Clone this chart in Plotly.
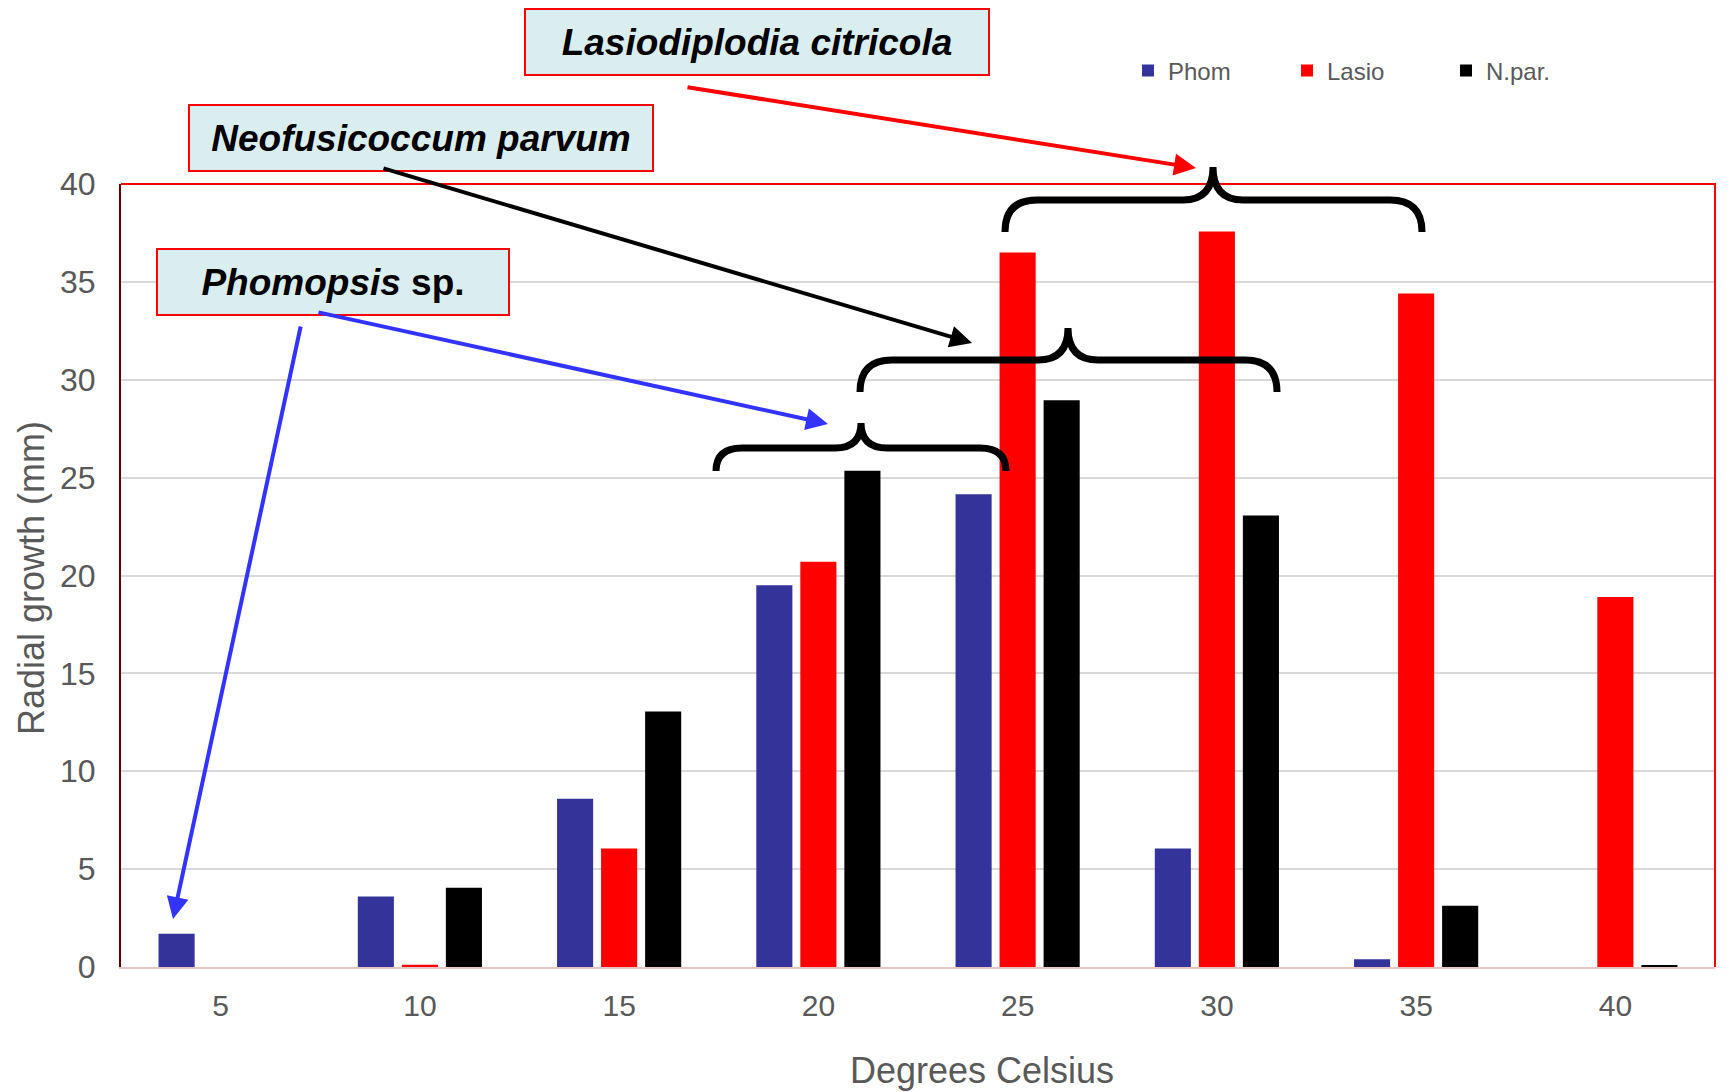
import plotly.graph_objects as go

# ---------------- data ----------------
temps = ["5", "10", "15", "20", "25", "30", "35", "40"]
phom = [1.7, 3.6, 8.6, 19.5, 24.15, 6.05, 0.4, 0.0]
lasio = [0.0, 0.12, 6.05, 20.7, 36.5, 37.57, 34.4, 18.9]
npar = [0.0, 4.05, 13.05, 25.35, 28.95, 23.07, 3.13, 0.1]

series_names = ["Phom", "Lasio", "N.par."]
series_colors = ["#333399", "#FF0000", "#000000"]

y_title = "Radial growth (mm)"
x_title = "Degrees Celsius"

# ---------------- layout helpers (pixel -> paper) ----------------
W, H = 1729, 1092
PL, PR, PT, PB = 121, 1715, 184, 967


def px(x):
    return (x - PL) / (PR - PL)


def py(y):
    return (PB - y) / (PB - PT)


fig = go.Figure()
for name, vals, col in zip(series_names, [phom, lasio, npar], series_colors):
    fig.add_trace(go.Bar(x=temps, y=vals, name=name, marker=dict(color=col, line=dict(width=0))))

FONT = "Arial, 'Liberation Sans', sans-serif"
GREY = "#595959"

shapes = []
# red plot frame (top + right), bottom and left come from axis lines
shapes.append(dict(type="path", xref="paper", yref="paper",
                   path="M 0,1 L 1,1 L 1,0",
                   line=dict(color="#FF0000", width=2), layer="above"))


def brace(xl, xr, xc, yb, yh, yp, r=32, r2=30):
    p = (f"M {px(xl)},{py(yb)} Q {px(xl)},{py(yh)} {px(xl + r)},{py(yh)} "
         f"L {px(xc - r2)},{py(yh)} Q {px(xc)},{py(yh)} {px(xc)},{py(yp)} "
         f"Q {px(xc)},{py(yh)} {px(xc + r2)},{py(yh)} "
         f"L {px(xr - r)},{py(yh)} Q {px(xr)},{py(yh)} {px(xr)},{py(yb)}")
    return dict(type="path", xref="paper", yref="paper", path=p,
                line=dict(color="#000000", width=7), layer="above")


shapes.append(brace(1005, 1422, 1213, 232, 200, 167))
shapes.append(brace(860, 1277, 1068, 392, 360, 328))
shapes.append(brace(716, 1006, 861, 471, 448, 423, r=26, r2=26))

annotations = []


def label_box(text, x0, x1, y0, y1):
    return dict(text=text, xref="paper", yref="paper",
                x=px((x0 + x1) / 2), y=py((y0 + y1) / 2),
                xanchor="center", yanchor="middle", showarrow=False,
                width=x1 - x0 - 2, height=y1 - y0 - 2, borderpad=0,
                bgcolor="#DAEEF0", bordercolor="#FF0000", borderwidth=2,
                font=dict(family=FONT, size=37, color="#000000"))


annotations.append(label_box("<b><i>Lasiodiplodia citricola</i></b>", 525, 989, 9, 75))
annotations.append(label_box("<b><i>Neofusicoccum parvum</i></b>", 189, 653, 105, 171))
annotations.append(label_box("<b><i>Phomopsis</i> sp.</b>", 157, 509, 249, 315))


def arrow(tx, ty, hx, hy, color):
    return dict(text="", xref="paper", yref="paper", x=px(hx), y=py(hy),
                axref="pixel", ayref="pixel", ax=tx - hx, ay=ty - hy,
                showarrow=True, arrowhead=2, arrowsize=1.1, arrowwidth=4,
                arrowcolor=color, standoff=0, startstandoff=0)


annotations.append(arrow(686, 87, 1196, 168, "#FF0000"))
annotations.append(arrow(382, 168, 972, 343, "#000000"))
annotations.append(arrow(317, 312, 828, 424, "#3333FF"))
annotations.append(arrow(301, 325, 173, 919, "#3333FF"))

# axis titles
annotations.append(dict(text=x_title, xref="paper", yref="paper", x=px(982), y=py(1070),
                        xanchor="center", yanchor="middle", showarrow=False,
                        font=dict(family=FONT, size=36, color=GREY)))
annotations.append(dict(text=y_title, xref="paper", yref="paper", x=px(31), y=py(578),
                        xanchor="center", yanchor="middle", showarrow=False, textangle=-90,
                        font=dict(family=FONT, size=36, color=GREY)))

fig.update_layout(
    width=W, height=H,
    margin=dict(l=PL, r=W - PR, t=PT, b=H - PB, pad=0),
    paper_bgcolor="#FFFFFF", plot_bgcolor="#FFFFFF",
    font=dict(family=FONT, color=GREY),
    barmode="group", bargap=0.337, bargroupgap=0.18,
    showlegend=True,
    legend=dict(orientation="h", x=px(1128), y=py(71), xanchor="left", yanchor="middle",
                font=dict(family=FONT, size=24, color=GREY),
                entrywidth=114, entrywidthmode="pixels",
                bgcolor="rgba(0,0,0,0)", borderwidth=0, traceorder="normal"),
    xaxis=dict(type="category", tickfont=dict(size=30, color=GREY), ticks="",
               showline=True, linecolor="#E8C4C4", linewidth=2, showgrid=False,
               ticklabelstandoff=11),
    yaxis=dict(range=[0, 40], dtick=5, tickfont=dict(size=32, color=GREY), ticks="",
               showline=True, linecolor="#5C0000", linewidth=2,
               gridcolor="#D9D9D9", gridwidth=1.5, zeroline=False,
               ticklabelstandoff=17),
    shapes=shapes, annotations=annotations,
)

fig.write_html("out.html", config={"displayModeBar": False},
               post_script="document.body.style.margin='0';document.body.style.overflow='hidden';")
